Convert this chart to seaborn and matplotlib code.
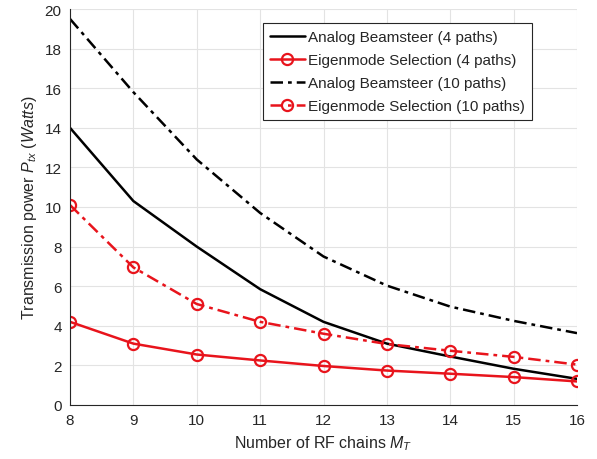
import pandas as pd
import matplotlib.pyplot as plt
import seaborn as sns

rf_chains = [8, 9, 10, 11, 12, 13, 14, 15, 16]
analog_4 = [14.0, 10.3, 8.0, 5.85, 4.2, 3.1, 2.45, 1.83, 1.32]
eigen_4 = [4.2, 3.1, 2.55, 2.25, 1.97, 1.74, 1.58, 1.41, 1.19]
analog_10 = [19.5, 15.8, 12.4, 9.7, 7.5, 6.03, 4.97, 4.25, 3.63]
eigen_10 = [10.1, 6.95, 5.1, 4.2, 3.6, 3.08, 2.74, 2.43, 2.04]

labels = [
    "Analog Beamsteer (4 paths)",
    "Eigenmode Selection (4 paths)",
    "Analog Beamsteer (10 paths)",
    "Eigenmode Selection (10 paths)",
]

sns.set_style("whitegrid")
plt.rcParams["font.family"] = ["Liberation Sans", "DejaVu Sans"]
plt.rcParams["mathtext.fontset"] = "custom"
plt.rcParams["mathtext.rm"] = "Liberation Sans"
plt.rcParams["mathtext.it"] = "Liberation Sans:italic"

TXT = "#262626"
RED = "#e8141c"
DASHDOT = (0, (5, 2, 1.5, 2))

fig = plt.figure(figsize=(5.97, 4.6), dpi=100)
ax = fig.add_axes([70 / 597, 54 / 460, 507 / 597, 396 / 460])

styles = [
    dict(color="black", linestyle="-", marker=None),
    dict(color=RED, linestyle="-", marker="o"),
    dict(color="black", linestyle=DASHDOT, marker=None),
    dict(color=RED, linestyle=DASHDOT, marker="o"),
]

for vals, lab, st in zip([analog_4, eigen_4, analog_10, eigen_10], labels, styles):
    df = pd.DataFrame({"M": rf_chains, "P": vals})
    sns.lineplot(
        data=df, x="M", y="P", ax=ax, label=lab,
        color=st["color"], linestyle=st["linestyle"], marker=st["marker"],
        markersize=8, markerfacecolor="none", markeredgecolor=st["color"],
        markeredgewidth=1.6, linewidth=1.8,
    )

ax.set_xlim(8, 16)
ax.set_ylim(0, 20)
ax.set_xticks(rf_chains)
ax.set_yticks(range(0, 21, 2))
ax.grid(True, color="#e3e3e3", linewidth=0.8)
for side in ["top", "right"]:
    ax.spines[side].set_visible(False)
for side in ["left", "bottom"]:
    ax.spines[side].set_color(TXT)
    ax.spines[side].set_linewidth(0.8)
ax.tick_params(direction="in", length=4, color=TXT, labelcolor=TXT, labelsize=11, pad=6)

ax.set_xlabel(r"Number of RF chains $M_T$", fontsize=11.5, color=TXT)
ax.set_ylabel(r"Transmission power $P_{tx}$ $(Watts)$", fontsize=11.5, color=TXT)

leg = ax.legend(
    loc="upper left", bbox_to_anchor=(263 / 597, 1 - 24 / 460),
    bbox_transform=fig.transFigure, fontsize=11, frameon=True, fancybox=False,
    edgecolor=TXT, framealpha=1, handlelength=2.3, handletextpad=0.2,
    borderpad=0.45, labelspacing=0.6, borderaxespad=0,
)
leg.get_frame().set_linewidth(0.8)
for t in leg.get_texts():
    t.set_color(TXT)

fig.savefig("out.png", dpi=100)
plt.close(fig)
